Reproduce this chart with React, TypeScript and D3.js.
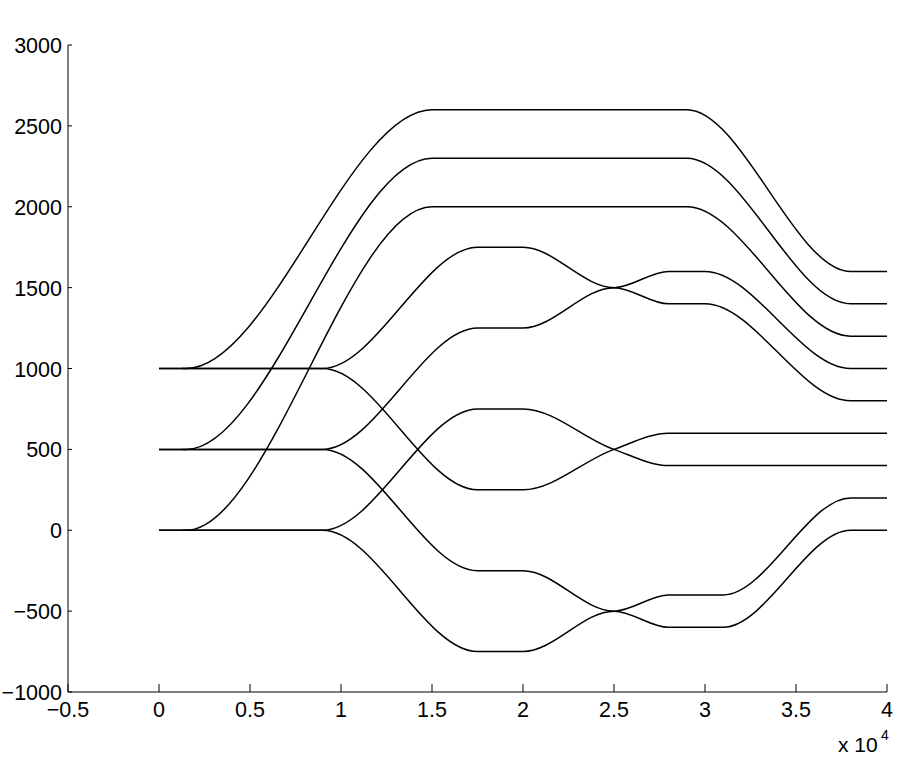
import React from "react";
import * as d3 from "d3";

// Waypoints [x, y] (x in raw units, axis shows x 10^4)
const pathA1: [number, number][] = [[1250, 1000], [1500, 1000], [15000, 2600], [29000, 2600], [38000, 1600], [40000, 1600]];
const pathA2: [number, number][] = [[1250, 500], [1500, 500], [15000, 2300], [29000, 2300], [38000, 1400], [40000, 1400]];
const pathA3: [number, number][] = [[1250, 0], [1500, 0], [15000, 2000], [29000, 2000], [38000, 1200], [40000, 1200]];
const pathB1: [number, number][] = [[0, 1000], [9000, 1000], [17500, 1750], [20000, 1750], [25000, 1500], [28000, 1600], [30000, 1600], [38000, 1000], [40000, 1000]];
const pathB2: [number, number][] = [[0, 500], [9000, 500], [17500, 1250], [20000, 1250], [25000, 1500], [28000, 1400], [30000, 1400], [38000, 800], [40000, 800]];
const pathB3: [number, number][] = [[0, 1000], [9000, 1000], [17500, 250], [20000, 250], [25000, 500], [28000, 600], [40000, 600]];
const pathB4: [number, number][] = [[0, 0], [9000, 0], [17500, 750], [20000, 750], [25000, 500], [28000, 400], [40000, 400]];
const pathB5: [number, number][] = [[0, 500], [9000, 500], [17500, -250], [20000, -250], [25000, -500], [28000, -400], [31000, -400], [38000, 200], [40000, 200]];
const pathB6: [number, number][] = [[0, 0], [9000, 0], [17500, -750], [20000, -750], [25000, -500], [28000, -600], [31000, -600], [38000, 0], [40000, 0]];

const allPaths = [pathA1, pathA2, pathA3, pathB1, pathB2, pathB3, pathB4, pathB5, pathB6];

const xTicks = [-5000, 0, 5000, 10000, 15000, 20000, 25000, 30000, 35000, 40000];
const yTicks = [-1000, -500, 0, 500, 1000, 1500, 2000, 2500, 3000];

const FONT = "'Liberation Sans', Arial, Helvetica, sans-serif";

function fmt(v: number): string {
  const s = String(v);
  return s.startsWith("-") ? "\u2212" + s.slice(1) : s;
}

export default function App() {
  const W = 901;
  const H = 758;
  const x = d3.scaleLinear().domain([-5000, 40000]).range([68, 887]);
  const y = d3.scaleLinear().domain([-1000, 3000]).range([692, 45]);
  const line = d3
    .line<[number, number]>()
    .x((d) => x(d[0]))
    .y((d) => y(d[1]))
    .curve(d3.curveMonotoneX);

  const x0 = x.range()[0];
  const y0 = y.range()[0];

  return (
    <svg
      width={W}
      height={H}
      style={{ position: "absolute", left: 0, top: 0, background: "#fff" }}
      fontFamily={FONT}
    >
      <rect x={0} y={0} width={W} height={H} fill="#fff" />
      {allPaths.map((p, i) => (
        <path key={i} d={line(p) || ""} fill="none" stroke="#000" strokeWidth={1.5} />
      ))}
      {/* axes */}
      <line x1={x0} x2={x.range()[1]} y1={y0} y2={y0} stroke="#000" strokeWidth={1} />
      <line x1={x0} x2={x0} y1={y0} y2={y.range()[1]} stroke="#000" strokeWidth={1} />
      {xTicks.map((t) => (
        <g key={"x" + t}>
          <line x1={x(t)} x2={x(t)} y1={y0} y2={y0 - 8} stroke="#000" strokeWidth={1} />
          <text x={x(t)} y={717} textAnchor="middle" fontSize={21.5} fill="#000">
            {fmt(t / 10000)}
          </text>
        </g>
      ))}
      {yTicks.map((t) => (
        <g key={"y" + t}>
          <line x1={x0} x2={x0 + 4} y1={y(t)} y2={y(t)} stroke="#000" strokeWidth={1} />
          <text x={62} y={y(t) + 8} textAnchor="end" fontSize={21.5} fill="#000">
            {fmt(t)}
          </text>
        </g>
      ))}
      <text x={838} y={752} fontSize={21} fill="#000">x 10</text>
      <text x={881} y={740} fontSize={14} fill="#000">4</text>
    </svg>
  );
}
